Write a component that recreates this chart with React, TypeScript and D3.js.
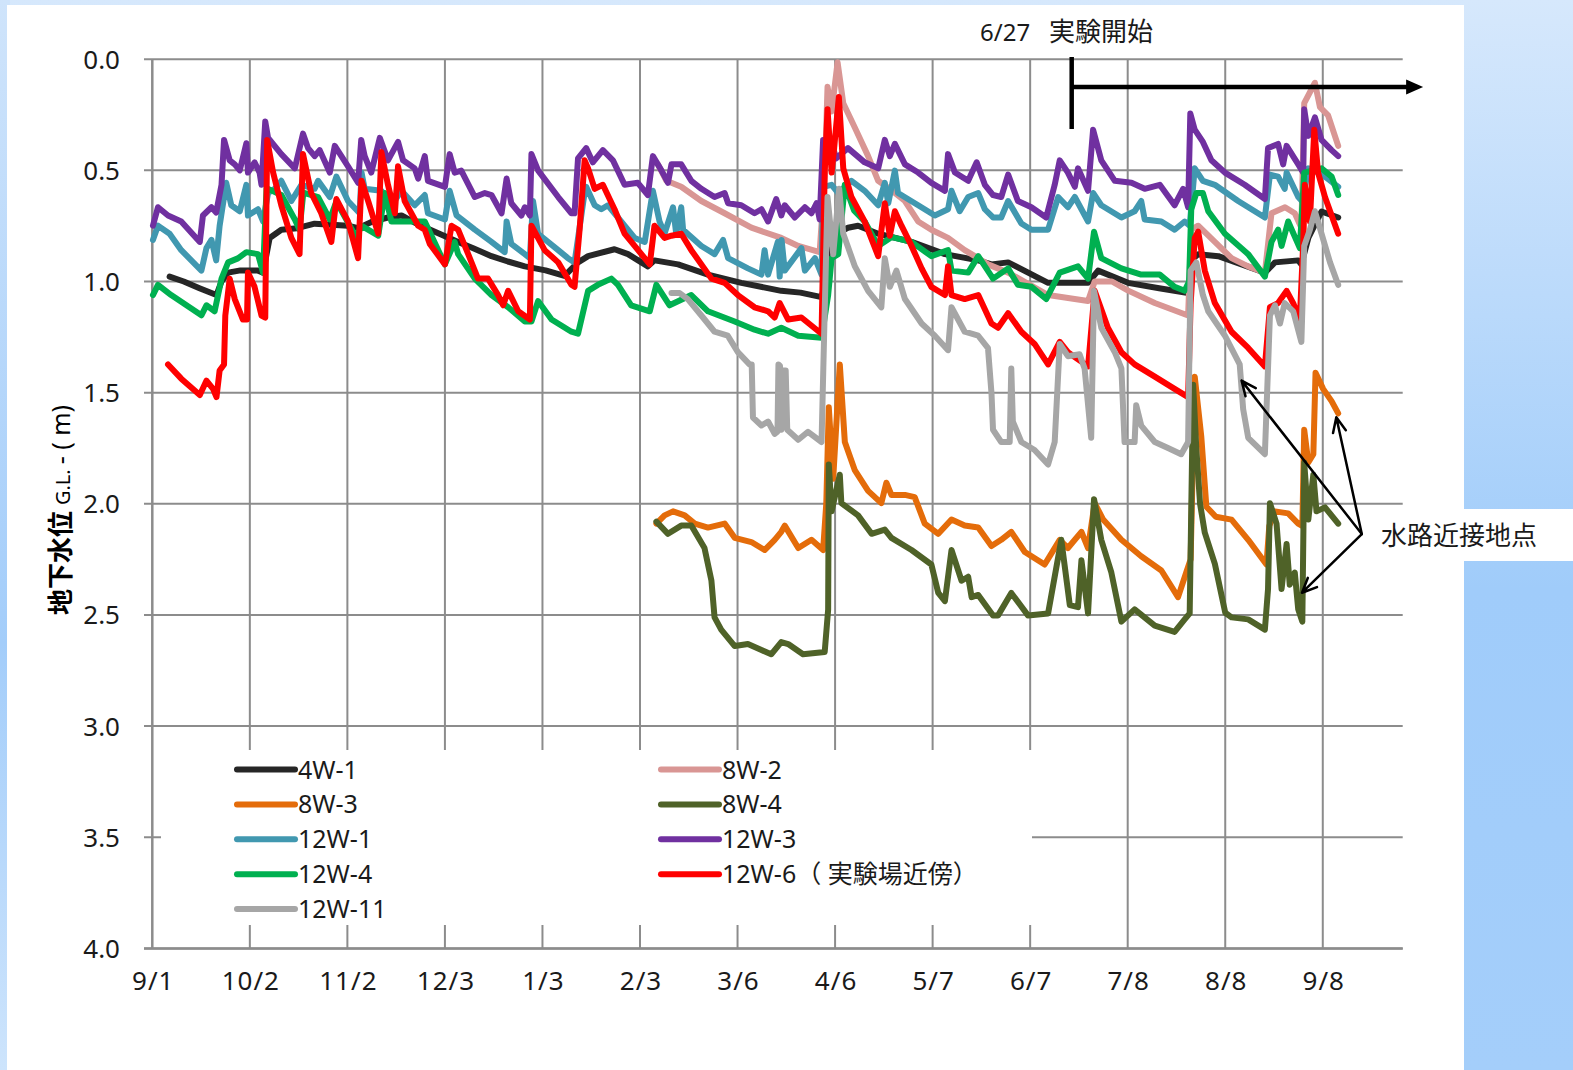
import React from "react";
import * as d3 from "d3";

type Pt = [number, number];

// x values: days since 9/1 ; y values: groundwater depth G.L.-(m)
const xTickDays = [0, 31, 62, 93, 124, 155, 186, 217, 248, 279, 310, 341, 372];
const xTickLabels = ["9/1", "10/2", "11/2", "12/3", "1/3", "2/3", "3/6", "4/6", "5/7", "6/7", "7/8", "8/8", "9/8"];
const yTicks = [0, 0.5, 1, 1.5, 2, 2.5, 3, 3.5, 4];
const yTickLabels = ["0.0", "0.5", "1.0", "1.5", "2.0", "2.5", "3.0", "3.5", "4.0"];

const seriesNames = ["4W-1", "8W-2", "8W-3", "8W-4", "12W-1", "12W-3", "12W-4", "12W-6（ 実験場近傍）", "12W-11"];
const seriesColors = ["#262626", "#d99694", "#e46c0a", "#4f6228", "#4198b0", "#7030a0", "#00b050", "#ff0000", "#a6a6a6"];

const w4_1: Pt[] = [[5.5,0.978],[10,1.0],[15,1.03],[20.4,1.061],[22,1.0],[24.1,0.96],[28,0.95],[33.6,0.951],[35.2,0.96],[37.3,0.804],[41,0.767],[46,0.76],[51.6,0.74],[57,0.745],[62.2,0.749],[65.4,0.76],[70,0.73],[74.9,0.712],[79.2,0.703],[84,0.74],[89.8,0.776],[97.2,0.822],[102,0.85],[107.8,0.886],[113,0.91],[118.4,0.932],[125,0.95],[131,0.975],[135.3,0.914],[138.5,0.886],[146.9,0.855],[151.2,0.877],[157.5,0.932],[159.6,0.905],[167.1,0.923],[176.6,0.969],[187.2,1.006],[199.9,1.042],[206,1.05],[212.7,1.07],[214,1.0],[216,0.85],[218,0.78],[221.1,0.758],[224.3,0.749],[230.7,0.785],[241.3,0.822],[251.9,0.877],[262.5,0.905],[266.7,0.923],[272,0.914],[284.7,1.006],[297.4,1.006],[300.6,0.951],[310.1,1.006],[320,1.03],[329.2,1.052],[330.5,0.9],[332.4,0.877],[338.8,0.886],[353.6,0.96],[356.8,0.914],[364.2,0.905],[365.2,0.923],[367.4,0.804],[371.6,0.685],[376.9,0.712]];

const w8_2: Pt[] = [[160.7,0.473],[163.4,0.547],[168.1,0.574],[174.5,0.638],[181.9,0.693],[190.4,0.758],[199.9,0.804],[205.3,0.84],[212.1,0.868],[213.7,0.528],[214.6,0.124],[215.9,0.235],[217.8,0.014],[219.6,0.198],[223.3,0.308],[227.5,0.436],[230.7,0.547],[235,0.59],[239.2,0.638],[243.4,0.73],[247.6,0.767],[252.9,0.804],[258.2,0.859],[262.5,0.895],[265.6,0.923],[272,0.96],[284.7,1.061],[297.4,1.088],[299.5,1.0],[305,1.0],[310,1.04],[318.6,1.097],[329.2,1.153],[330.2,0.767],[332.4,0.749],[337.7,0.822],[343,0.895],[348.3,0.932],[353.6,0.96],[355.7,0.693],[360,0.666],[363.1,0.693],[365.2,0.758],[366.1,0.198],[369.5,0.106],[371.1,0.216],[373.7,0.253],[376.9,0.39]];

const w8_3: Pt[] = [[160.2,2.089],[162.8,2.052],[165.5,2.034],[169.2,2.052],[172.4,2.089],[176.6,2.107],[181.9,2.089],[185.1,2.153],[190.4,2.172],[194.6,2.208],[197.8,2.162],[199.9,2.126],[201,2.098],[205.3,2.199],[209.5,2.162],[213.2,2.208],[214.2,2.0],[215,1.566],[216.4,1.887],[218.5,1.373],[220.1,1.722],[223.3,1.85],[227.5,1.942],[231.7,1.997],[233.3,1.905],[234.9,1.96],[239.2,1.96],[242.3,1.97],[245.5,2.089],[249.8,2.135],[254,2.071],[258.2,2.098],[262.5,2.107],[266.7,2.19],[269.8,2.162],[273,2.126],[277.3,2.217],[283.6,2.273],[288.4,2.162],[291,2.199],[295.3,2.126],[297.4,2.199],[299.5,1.997],[302.2,2.071],[308,2.162],[314.3,2.236],[320.7,2.3],[326,2.42],[328.6,2.309],[330,2.25],[331.3,1.428],[333.4,1.7],[335,2.013],[338,2.058],[343,2.071],[348.3,2.162],[354.1,2.273],[355,2.1],[356.8,2.034],[361,2.043],[364.2,2.089],[365.5,2.1],[366.1,1.667],[367.4,1.814],[369,1.777],[369.7,1.41],[372.1,1.483],[374.8,1.538],[376.9,1.593]];

const w8_4: Pt[] = [[160.2,2.08],[163.9,2.135],[168.1,2.098],[171.3,2.098],[175.5,2.199],[177.7,2.346],[178.7,2.511],[180.8,2.566],[185.1,2.64],[189.3,2.631],[193.6,2.658],[196.7,2.677],[199.9,2.622],[202.1,2.631],[206.8,2.677],[213.7,2.667],[214.8,2.475],[215,1.823],[215.9,2.034],[218.5,1.869],[219,1.997],[224.3,2.052],[228.6,2.135],[232.8,2.116],[234.9,2.153],[241.3,2.208],[247.6,2.273],[249.8,2.401],[251.9,2.438],[254,2.208],[257.2,2.346],[259.3,2.328],[260.4,2.42],[262.5,2.41],[267.2,2.502],[268.8,2.502],[273,2.401],[278.3,2.502],[284.7,2.493],[288.9,2.162],[291.6,2.456],[294.2,2.465],[295.3,2.254],[297.4,2.493],[299.3,1.979],[301.6,2.162],[304.8,2.309],[308,2.53],[312.2,2.475],[318.6,2.548],[324.9,2.576],[328.1,2.52],[329.7,2.493],[330.8,1.465],[331.8,1.75],[333,2.0],[334.5,2.13],[337.7,2.27],[341,2.49],[343,2.511],[348.3,2.52],[353.6,2.566],[354.6,2.383],[355.2,1.997],[357.3,2.089],[358.9,2.383],[360.5,2.181],[361.5,2.364],[363.1,2.309],[364.2,2.475],[365.5,2.53],[366.1,1.814],[367.4,2.071],[369,1.869],[370,2.034],[372.7,2.016],[376.9,2.089]];

const w12_1: Pt[] = [[0.2,0.813],[1.8,0.749],[5.5,0.785],[9.2,0.859],[15.6,0.951],[17.2,0.85],[18.8,0.813],[20.3,0.905],[21.4,0.749],[23.5,0.556],[25.1,0.657],[27.8,0.684],[29.9,0.565],[30.4,0.703],[33.6,0.675],[35.2,0.73],[36.8,0.602],[38.9,0.583],[41,0.547],[44.2,0.638],[47.4,0.565],[51.6,0.583],[52.7,0.547],[56.4,0.62],[58.5,0.528],[62.2,0.638],[65.9,0.693],[66.5,0.51],[67.5,0.583],[72.8,0.592],[76,0.657],[79.2,0.592],[83.4,0.657],[86.6,0.611],[87.6,0.693],[93,0.721],[94.5,0.592],[96.7,0.703],[102.5,0.767],[107.8,0.822],[112,0.868],[112.6,0.73],[114.1,0.831],[118.4,0.877],[120,0.895],[121,0.638],[122.6,0.785],[129,0.859],[132.1,0.895],[134.2,0.914],[137.4,0.6],[137.9,0.574],[140.6,0.657],[142.7,0.675],[144.8,0.657],[150.1,0.749],[153.3,0.804],[156.5,0.822],[159.1,0.592],[161.2,0.73],[162.8,0.785],[165.5,0.666],[166.5,0.785],[168.1,0.666],[168.7,0.767],[174.5,0.84],[178.7,0.877],[181.4,0.813],[183,0.895],[189.3,0.941],[193.6,0.969],[194.6,0.859],[195.7,0.969],[198.8,0.822],[199.4,0.978],[200,0.813],[201,0.951],[206.3,0.85],[207.4,0.951],[210.6,0.895],[212.7,0.969],[213.2,0.574],[215.9,0.565],[218,0.602],[222.2,0.547],[226.4,0.592],[230.7,0.657],[232.8,0.556],[233.9,0.648],[236,0.501],[237,0.602],[243.4,0.657],[248.7,0.703],[252.9,0.675],[254,0.592],[256.6,0.684],[259.3,0.62],[262.5,0.602],[264.6,0.675],[267.2,0.712],[269.8,0.712],[272,0.638],[276.2,0.739],[279.4,0.767],[284.7,0.767],[287.9,0.62],[291,0.666],[293.2,0.62],[297.4,0.73],[299,0.602],[301.6,0.657],[308,0.712],[312.2,0.684],[314.3,0.638],[315.4,0.721],[320.7,0.73],[324.9,0.767],[328.1,0.73],[329.7,0.749],[331.3,0.491],[333.9,0.547],[337.7,0.565],[345.1,0.638],[353.6,0.712],[355.2,0.519],[357.8,0.528],[359.9,0.583],[360.5,0.51],[364.2,0.62],[365.5,0.64],[367.4,0.491],[372,0.52],[376.9,0.574]];

const w12_3: Pt[] = [[0.2,0.749],[1.8,0.666],[5,0.703],[9.2,0.73],[15.1,0.822],[16.1,0.703],[18.8,0.666],[20.3,0.69],[22,0.565],[22.8,0.363],[24.6,0.455],[26.2,0.473],[27.8,0.5],[29.9,0.378],[30.4,0.51],[32.5,0.464],[34.1,0.51],[34.7,0.565],[35.9,0.28],[36.8,0.354],[41,0.427],[45.3,0.491],[47.9,0.335],[49.5,0.4],[51.6,0.436],[53.2,0.409],[56.4,0.51],[58,0.39],[62.2,0.482],[65.4,0.556],[66.4,0.363],[67.5,0.436],[69.6,0.51],[72.3,0.354],[74.9,0.455],[78.1,0.372],[79.7,0.455],[83.4,0.491],[84.5,0.537],[86.6,0.436],[87.6,0.547],[93,0.574],[94.5,0.427],[96.1,0.51],[98.2,0.501],[102.5,0.62],[105.7,0.602],[107.8,0.611],[111,0.693],[112.6,0.537],[114.1,0.648],[117.3,0.703],[118.4,0.666],[120,0.703],[120.5,0.427],[122.6,0.5],[129,0.62],[133.2,0.693],[134.2,0.693],[135.3,0.446],[137.9,0.4],[140,0.464],[143.2,0.409],[146.4,0.455],[150.1,0.565],[154.3,0.556],[157.5,0.611],[159.1,0.436],[161.8,0.5],[163.9,0.556],[165,0.473],[168.1,0.473],[171.3,0.547],[174.5,0.583],[178.7,0.62],[181.9,0.602],[183,0.648],[187.2,0.657],[191.4,0.693],[193.6,0.675],[195.7,0.73],[198.3,0.629],[199.9,0.703],[201,0.657],[204.2,0.712],[207.4,0.666],[209.5,0.693],[211.1,0.648],[212.1,0.721],[213.2,0.363],[214.8,0.436],[215.9,0.381],[217.4,0.446],[221.1,0.4],[226.4,0.464],[230.7,0.491],[232.8,0.363],[234.4,0.436],[236,0.381],[239.2,0.473],[243.4,0.51],[247.6,0.556],[251.9,0.592],[252.9,0.427],[255.1,0.51],[259.3,0.547],[262,0.464],[264.6,0.565],[267.2,0.611],[269.8,0.62],[272,0.519],[275.1,0.638],[279.4,0.666],[284.1,0.712],[286.8,0.565],[288.4,0.455],[291,0.51],[293.2,0.574],[294.2,0.491],[297.4,0.592],[299,0.317],[301.6,0.455],[305.9,0.547],[311.2,0.556],[315.4,0.583],[320.2,0.565],[324.9,0.657],[327.6,0.583],[329.2,0.666],[329.9,0.244],[331.3,0.317],[333.9,0.372],[336.6,0.455],[340.9,0.51],[347.2,0.565],[353.6,0.629],[354.6,0.4],[357.8,0.381],[359.4,0.473],[360.5,0.39],[364.2,0.473],[365.8,0.51],[366.1,0.225],[367.4,0.345],[369.5,0.262],[371.6,0.363],[374.8,0.409],[376.9,0.436]];

const w12_4: Pt[] = [[0.2,1.061],[1.8,1.015],[6,1.061],[15.6,1.152],[17.2,1.107],[19.8,1.134],[22,0.987],[24.1,0.914],[27.2,0.896],[29.9,0.868],[33.6,0.877],[35.2,0.96],[36.3,0.58],[41,0.611],[45.3,0.721],[46.8,0.767],[48,0.6],[52.7,0.62],[56.4,0.721],[58.5,0.64],[64.9,0.804],[66.4,0.749],[71.8,0.794],[73.9,0.602],[76,0.73],[81.3,0.73],[86.6,0.73],[93,0.923],[96.1,0.822],[97.2,0.877],[102.5,0.987],[107.8,1.061],[113.1,1.116],[118.4,1.18],[120.5,1.18],[122.6,1.088],[126.9,1.171],[133.2,1.226],[135.3,1.235],[138.5,1.042],[141.6,1.015],[145.9,0.987],[148,1.015],[152.2,1.107],[158.1,1.134],[160.2,1.015],[164.4,1.107],[171.3,1.061],[176.6,1.134],[185.1,1.18],[191.4,1.217],[195.7,1.235],[199.9,1.208],[205.3,1.244],[212.7,1.253],[214.8,1.061],[215.9,0.895],[218,0.877],[220.1,0.565],[223,0.68],[226.4,0.73],[230.7,0.84],[235,0.8],[241.3,0.822],[247.6,0.886],[252.9,0.859],[254,0.951],[259.3,0.96],[262.5,0.886],[267.2,0.987],[272,0.941],[275.1,1.015],[279.4,1.024],[284.1,1.079],[288.4,0.96],[294.2,0.932],[297.4,0.987],[299.3,0.776],[301.6,0.895],[308,0.941],[314.3,0.969],[320.2,0.969],[324.9,1.024],[328.1,1.042],[329.5,1.0],[330.2,0.675],[331.8,0.602],[333.9,0.602],[335.6,0.684],[340.9,0.785],[348.3,0.877],[353.6,0.978],[355.7,0.822],[357.8,0.767],[358.9,0.84],[361,0.73],[364.7,0.85],[366.1,0.51],[371.6,0.491],[374.8,0.528],[376.9,0.611]];

const w12_6: Pt[] = [[5,1.373],[9.2,1.437],[15.1,1.511],[17.2,1.446],[19.3,1.483],[20.4,1.52],[21.4,1.4],[22.8,1.373],[23.2,1.153],[24.6,0.987],[26.2,1.079],[28.8,1.171],[30.1,1.171],[30.4,0.96],[32.5,1.024],[34.7,1.153],[35.9,1.162],[36.5,0.363],[38.4,0.51],[41,0.657],[44.2,0.804],[46.8,0.877],[47.9,0.427],[50.5,0.602],[53.7,0.693],[56.9,0.822],[58.5,0.629],[62.2,0.73],[65.4,0.895],[66.5,0.547],[68.6,0.638],[71.8,0.785],[72.8,0.418],[74.9,0.565],[77.1,0.693],[78.1,0.482],[80.2,0.638],[84.5,0.749],[86.6,0.767],[88.2,0.831],[93,0.923],[95.1,0.749],[97.2,0.767],[100.4,0.877],[103.5,0.987],[106.7,0.987],[109.9,1.061],[111.5,1.107],[113.1,1.042],[116.3,1.134],[120,1.171],[120.5,0.749],[124.7,0.859],[129,0.914],[133.2,1.015],[134.2,1.024],[135.8,0.767],[137.4,0.455],[138.5,0.491],[140.6,0.583],[143.2,0.565],[146.9,0.675],[150.1,0.785],[153.3,0.84],[158.1,0.923],[159.6,0.749],[162.8,0.804],[165,0.794],[168.1,0.785],[171.3,0.859],[177.7,0.987],[181.9,1.006],[186.1,1.061],[191.4,1.116],[195.7,1.134],[197.8,1.162],[199.4,1.097],[202.1,1.171],[206.3,1.162],[212.7,1.235],[213.7,0.51],[214.6,0.225],[215.9,0.51],[216.7,0.4],[218.2,0.17],[219.6,0.491],[222.2,0.62],[226.4,0.73],[230.7,0.886],[232.8,0.648],[234.4,0.794],[236,0.684],[238.1,0.749],[241.3,0.84],[244.5,0.941],[247.6,1.024],[251.9,1.061],[252.9,0.932],[254,1.061],[258.2,1.079],[262.5,1.061],[266.7,1.189],[268.8,1.208],[272,1.143],[276.2,1.226],[280.4,1.281],[284.7,1.373],[288.4,1.272],[291,1.318],[297.4,1.382],[299.5,1.042],[303.7,1.208],[308,1.318],[312.2,1.373],[318.6,1.428],[324.9,1.483],[329.2,1.52],[330,1.1],[331.3,0.804],[332.4,0.776],[334.5,0.951],[337.7,1.097],[343,1.226],[348.3,1.299],[353.6,1.382],[355.2,1.116],[357.8,1.097],[360.5,1.042],[362.6,1.097],[364.7,1.171],[365.8,0.822],[366.3,0.565],[367.9,0.73],[369.3,0.317],[370.5,0.51],[372.7,0.62],[376.9,0.785]];

const w12_11: Pt[] = [[165,1.052],[167.6,1.052],[170.2,1.079],[174.5,1.153],[178.7,1.226],[182.9,1.244],[186.1,1.318],[189.8,1.373],[190.5,1.373],[190.9,1.612],[193.6,1.648],[195.7,1.63],[197.8,1.685],[198.7,1.675],[199,1.373],[199.5,1.38],[199.9,1.667],[200.5,1.4],[201.3,1.4],[201.8,1.667],[205.3,1.712],[208.4,1.676],[212.7,1.722],[213.7,1.134],[214.6,0.62],[216.4,0.877],[218.3,0.583],[219.6,0.785],[223.3,0.932],[227.5,1.042],[231.7,1.116],[232.8,0.895],[234.4,1.024],[236.5,0.951],[239.2,1.079],[244.5,1.189],[248.7,1.244],[252.9,1.309],[254,1.116],[258.2,1.226],[262.5,1.244],[265.6,1.3],[266.7,1.5],[267.2,1.667],[269.8,1.722],[272.5,1.722],[273,1.391],[273.5,1.63],[276.2,1.722],[280.4,1.758],[284.7,1.823],[286.8,1.722],[288.4,1.281],[291,1.336],[294.7,1.327],[296.3,1.391],[298.4,1.703],[299.3,1.042],[301.6,1.208],[305.9,1.318],[308,1.391],[309,1.722],[312.2,1.722],[312.7,1.557],[314.3,1.648],[318.6,1.722],[322.8,1.749],[327,1.777],[329.2,1.722],[330,0.951],[331.8,0.914],[333.9,1.061],[335.6,1.134],[340.9,1.244],[345.6,1.373],[346.7,1.575],[348.3,1.703],[353.6,1.777],[355.2,1.153],[356.8,1.107],[358.4,1.189],[359.9,1.097],[362.6,1.134],[365.2,1.272],[366.1,0.84],[367.9,0.767],[369.5,0.684],[371.6,0.785],[374.3,0.914],[376.9,1.015]];

const seriesData: Pt[][] = [w4_1, w8_2, w8_3, w8_4, w12_1, w12_3, w12_4, w12_6, w12_11];

// annotations (day, depth)
const expStartDay = 292.2;
const expArrowEndDay = 403.9;
const expLabel = "6/27";
const expLabel2 = "実験開始";
const waterLabel = "水路近接地点";
const waterOrigin: Pt = [384.4, 2.136];
const waterTargets: Pt[] = [[346.2, 1.446], [376.3, 1.611], [365.4, 2.4]];

const FONT = "'Noto Sans', 'Noto Sans CJK JP', sans-serif";
const JP = "'Noto Sans CJK JP', 'Noto Sans', sans-serif";

export default function App() {
  const x = d3.scaleLinear().domain([0, 397.4]).range([152.3, 1402.7]);
  const y = d3.scaleLinear().domain([0, 4]).range([59.2, 948.4]);
  const line = d3.line<Pt>().x((d) => x(d[0])).y((d) => y(d[1]));
  const grid = "#8c8c8c";
  const txt = "#1a1a1a";

  const arrowHead = (from: Pt, to: Pt) => {
    const x1 = x(from[0]), y1 = y(from[1]), x2 = x(to[0]), y2 = y(to[1]);
    const ang = Math.atan2(y2 - y1, x2 - x1);
    const L = 16, a = 0.42;
    const p1 = [x2 - L * Math.cos(ang - a), y2 - L * Math.sin(ang - a)];
    const p2 = [x2 - L * Math.cos(ang + a), y2 - L * Math.sin(ang + a)];
    return `M${x1},${y1}L${x2},${y2}M${p1[0]},${p1[1]}L${x2},${y2}L${p2[0]},${p2[1]}`;
  };

  const ex = x(expStartDay);
  const arrowY = y(0.125);
  const tipX = x(expArrowEndDay);

  return (
    <div style={{ position: "absolute", left: 0, top: 0, width: 1573, height: 1070 }}>
      <svg width={1573} height={1070} style={{ display: "block" }}>
        <defs>
          <linearGradient id="bgR" x1="0" y1="0" x2="0" y2="1">
            <stop offset="0" stopColor="#d6e8fc" />
            <stop offset="0.55" stopColor="#a0ccfa" />
            <stop offset="1" stopColor="#a4cefa" />
          </linearGradient>
          <linearGradient id="bgL" x1="0" y1="0" x2="0" y2="1">
            <stop offset="0" stopColor="#cfe4fb" />
            <stop offset="0.6" stopColor="#a3cdfa" />
            <stop offset="1" stopColor="#cde4fc" />
          </linearGradient>
        </defs>
        <rect x={0} y={0} width={1573} height={1070} fill="url(#bgR)" />
        <rect x={0} y={0} width={10} height={1070} fill="url(#bgL)" />
        <rect x={7} y={5} width={1457} height={1065} fill="#ffffff" />
        <rect x={1464} y={509} width={109} height={52} fill="#ffffff" />

        {/* horizontal grid */}
        {yTicks.map((t) => (
          <line key={"h" + t} x1={144} x2={x(397.4)} y1={y(t)} y2={y(t)} stroke={grid} strokeWidth={2} />
        ))}
        {/* vertical grid */}
        {xTickDays.slice(1).map((d) => (
          <line key={"v" + d} x1={x(d)} x2={x(d)} y1={y(0)} y2={y(4)} stroke={grid} strokeWidth={2} />
        ))}
        <line x1={x(0)} x2={x(0)} y1={y(0)} y2={y(4)} stroke={grid} strokeWidth={2.5} />
        <line x1={144} x2={x(397.4)} y1={y(4)} y2={y(4)} stroke={grid} strokeWidth={2.5} />

        {/* legend background */}
        <rect x={161} y={750} width={871} height={175} fill="#ffffff" />

        {/* y tick labels */}
        {yTicks.map((t, i) => (
          <text key={"yl" + t} x={120} y={y(t) + 9.5} textAnchor="end" fontFamily={FONT} fontSize={26} fill={txt}>
            {yTickLabels[i]}
          </text>
        ))}
        {/* x tick labels */}
        {xTickDays.map((d, i) => (
          <text key={"xl" + d} x={x(d) + 1} y={990} textAnchor="middle" fontFamily={FONT} fontSize={26} letterSpacing={1} fill={txt}>
            {xTickLabels[i]}
          </text>
        ))}

        {/* y axis title */}
        <text transform="translate(70,510) rotate(-90)" textAnchor="middle" fontFamily={FONT} fill="#000">
          <tspan fontFamily={JP} fontSize={26} fontWeight="bold">地下水位</tspan>
          <tspan fontSize={20} dx={6}>G.L.</tspan>
          <tspan fontSize={25} dx={5}>- ( m)</tspan>
        </text>

        {/* series */}
        {seriesData.map((s, i) => (
          <path key={"s" + i} d={line(s) || ""} fill="none" stroke={seriesColors[i]} strokeWidth={6}
            strokeLinejoin="round" strokeLinecap="round" />
        ))}

        {/* legend */}
        {seriesNames.map((n, i) => {
          const col = i % 2, row = Math.floor(i / 2);
          const lx = col === 0 ? 237 : 661;
          const ly = 769.5 + row * 34.9;
          return (
            <g key={"lg" + i}>
              <line x1={lx} x2={lx + 58} y1={ly} y2={ly} stroke={seriesColors[i]} strokeWidth={6} strokeLinecap="round" />
              <text x={lx + 61} y={ly + 9} fontFamily={FONT} fontSize={25} fill={txt}>{n}</text>
            </g>
          );
        })}

        {/* experiment start annotation */}
        <text x={980} y={41} fontFamily={FONT} fontSize={24} fill={txt}>{expLabel}</text>
        <text x={1049} y={41} fontFamily={JP} fontSize={26} fill={txt}>{expLabel2}</text>
        <line x1={ex} x2={ex} y1={y(-0.01)} y2={y(0.314)} stroke="#000" strokeWidth={4.5} />
        <line x1={ex} x2={tipX - 12} y1={arrowY} y2={arrowY} stroke="#000" strokeWidth={4.5} />
        <path d={`M${tipX},${arrowY}L${tipX - 17},${arrowY - 7.5}L${tipX - 17},${arrowY + 7.5}Z`} fill="#000" />

        {/* water channel annotation */}
        {waterTargets.map((t, i) => (
          <path key={"wa" + i} d={arrowHead(waterOrigin, t)} fill="none" stroke="#000" strokeWidth={2.5} strokeLinecap="round" strokeLinejoin="round" />
        ))}
        <text x={1381} y={545} fontFamily={JP} fontSize={26} fill={txt}>{waterLabel}</text>
      </svg>
    </div>
  );
}
